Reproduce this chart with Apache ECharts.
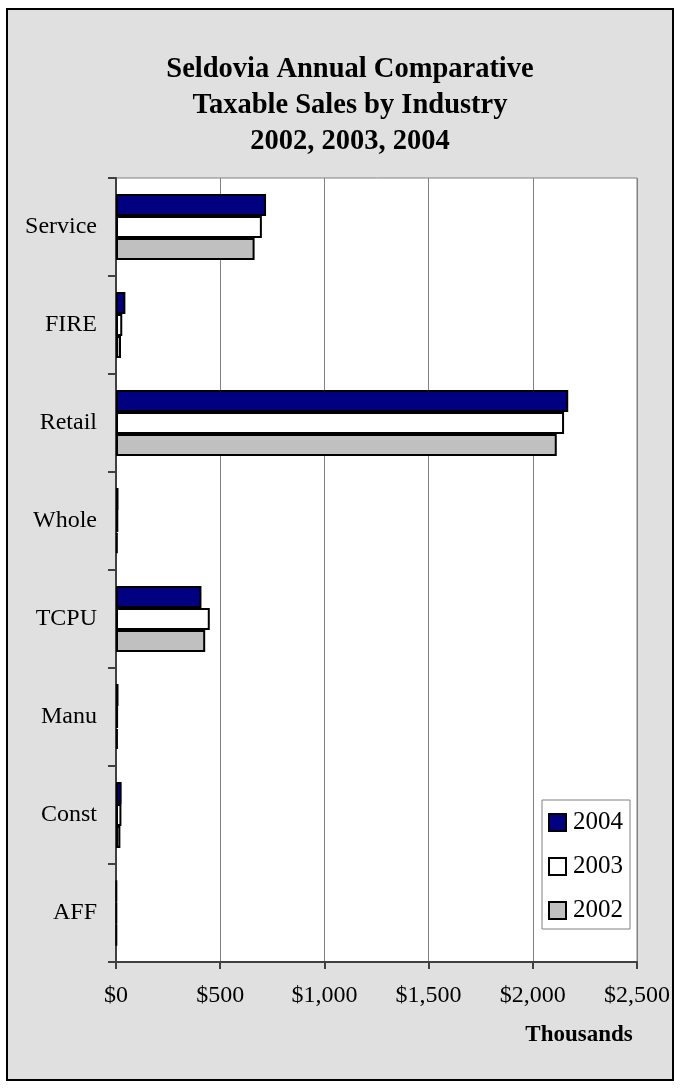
<!DOCTYPE html>
<html>
<head>
<meta charset="utf-8">
<script src="https://cdn.jsdelivr.net/npm/echarts@6/dist/echarts.min.js"></script>
<style>
  html, body { margin: 0; padding: 0; background: #fff; }
  #chart { width: 681px; height: 1088px; }
</style>
</head>
<body>
<div id="chart"></div>
<script>
// categories top to bottom
var industries = ['Service', 'FIRE', 'Retail', 'Whole', 'TCPU', 'Manu', 'Const', 'AFF'];
var years = ['2004', '2003', '2002'];
// taxable sales, thousands of dollars
var sales2004 = [720, 45, 2170, 12, 410, 12, 27, 3];
var sales2003 = [700, 30, 2150, 11, 450, 10, 26, 3];
var sales2002 = [665, 24, 2115, 8, 428, 9, 21, 3];
var xTicks = [0, 500, 1000, 1500, 2000, 2500];

var serif = '"Liberation Serif", "DejaVu Serif", serif';
var chart = echarts.init(document.getElementById('chart'));

function money(v) {
  return '$' + v.toLocaleString('en-US');
}

var barStyle = function (col) {
  return { color: col, borderColor: '#000', borderWidth: 2 };
};

var option = {
  animation: false,
  title: {
    text: 'Seldovia Annual Comparative\nTaxable Sales by Industry\n2002, 2003, 2004',
    left: 345,
    top: 47,
    textAlign: 'center',
    textStyle: {
      fontFamily: serif,
      fontWeight: 'bold',
      fontSize: 28.5,
      lineHeight: 36,
      color: '#000'
    }
  },
  graphic: [
    {
      type: 'rect',
      z: -1,
      shape: { x: 7, y: 9, width: 666, height: 1071 },
      style: { fill: '#e0e0e0', stroke: '#000', lineWidth: 2 }
    },
    {
      type: 'text',
      x: 579,
      y: 1035,
      style: {
        text: 'Thousands',
        fontFamily: serif,
        fontWeight: 'bold',
        fontSize: 23,
        fill: '#000',
        textAlign: 'center',
        textVerticalAlign: 'middle'
      }
    }
  ],
  legend: {
    data: years,
    orient: 'vertical',
    left: 542,
    top: 800,
    padding: [10, 7, 6, 6],
    itemGap: 19,
    itemWidth: 17,
    itemHeight: 17,
    icon: 'rect',
    backgroundColor: '#fff',
    borderColor: '#808080',
    borderWidth: 1,
    itemStyle: { borderColor: '#000', borderWidth: 2 },
    textStyle: {
      fontFamily: serif,
      fontSize: 25,
      color: '#000',
      padding: [0, 0, 0, 2]
    }
  },
  grid: {
    left: 116,
    right: 44,
    top: 178,
    bottom: 126,
    show: true,
    backgroundColor: '#fff',
    borderColor: '#808080',
    borderWidth: 1
  },
  xAxis: {
    type: 'value',
    min: 0,
    max: 2500,
    interval: 500,
    axisLine: { show: true, lineStyle: { color: '#404040', width: 2 } },
    axisTick: { show: true, length: 7, lineStyle: { color: '#404040', width: 2 } },
    splitLine: { show: true, lineStyle: { color: '#808080', width: 1 } },
    axisLabel: {
      fontFamily: serif,
      fontSize: 24,
      color: '#000',
      margin: 22,
      formatter: function (v) { return xTicks.indexOf(v) >= 0 ? money(v) : ''; }
    }
  },
  yAxis: {
    type: 'category',
    data: industries,
    inverse: true,
    axisLine: { show: true, lineStyle: { color: '#404040', width: 2 } },
    axisTick: { show: true, length: 8, lineStyle: { color: '#404040', width: 2 } },
    splitLine: { show: false },
    axisLabel: {
      fontFamily: serif,
      fontSize: 24,
      color: '#000',
      margin: 19
    }
  },
  series: [
    {
      name: '2004',
      type: 'bar',
      data: sales2004,
      barWidth: 22,
      barGap: '0%',
      itemStyle: barStyle('#000080')
    },
    {
      name: '2003',
      type: 'bar',
      data: sales2003,
      barWidth: 22,
      barGap: '0%',
      itemStyle: barStyle('#ffffff')
    },
    {
      name: '2002',
      type: 'bar',
      data: sales2002,
      barWidth: 22,
      barGap: '0%',
      itemStyle: barStyle('#c0c0c0')
    }
  ]
};

chart.setOption(option);
</script>
</body>
</html>
